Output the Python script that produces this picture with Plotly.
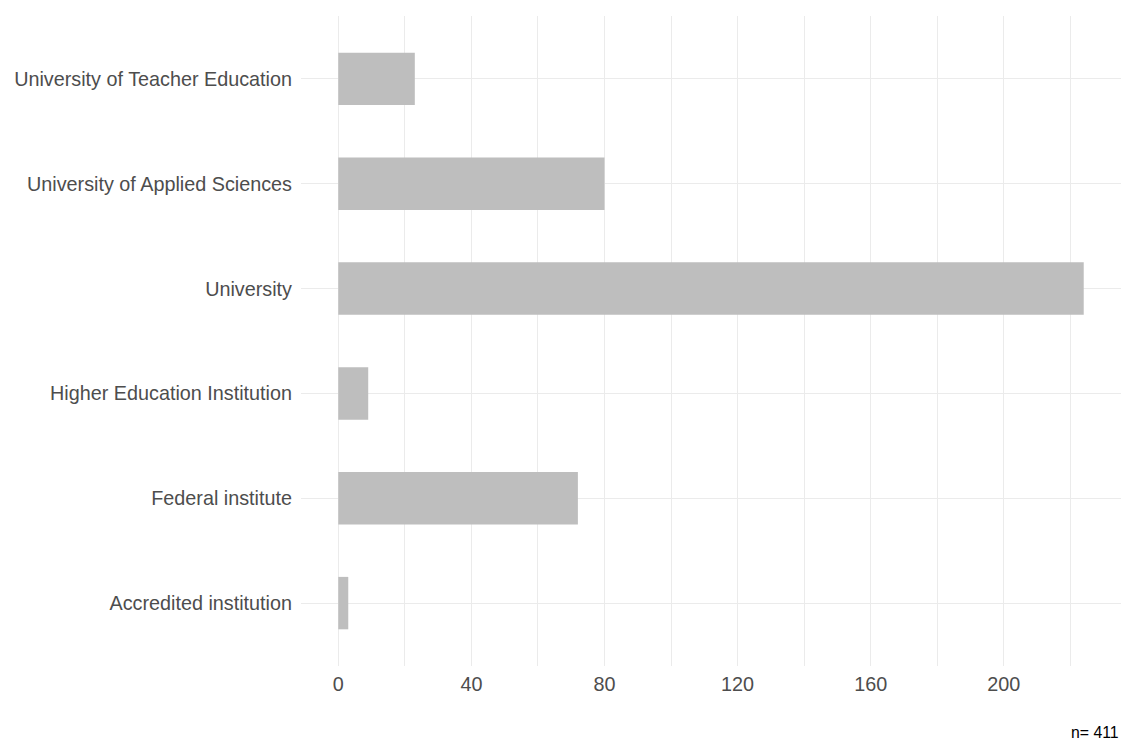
import plotly.graph_objects as go

categories = ["Accredited institution", "Federal institute", "Higher Education Institution",
              "University", "University of Applied Sciences", "University of Teacher Education"]
counts = [3, 72, 9, 224, 80, 23]
x_ticks = [0, 40, 80, 120, 160, 200]
caption = "n= 411"

fig = go.Figure(go.Bar(
    x=counts, y=categories, orientation="h", width=0.5,
    marker=dict(color="#BEBEBE", line=dict(width=0)),
    hoverinfo="x+y",
))

xmax = max(counts)
fig.update_layout(
    width=1122, height=744,
    margin=dict(l=301, r=1, t=16, b=78),
    paper_bgcolor="white", plot_bgcolor="white",
    font=dict(family="Liberation Sans, Arial, sans-serif", size=19.8, color="#4D4D4D"),
    showlegend=False,
    xaxis=dict(
        range=[-0.05 * xmax, 1.05 * xmax],
        tickvals=x_ticks, ticktext=[str(v) for v in x_ticks],
        showgrid=True, gridcolor="#EBEBEB", gridwidth=1.3,
        minor=dict(dtick=20, tick0=0, showgrid=True, gridcolor="#EBEBEB", gridwidth=1.3),
        zeroline=False, showline=False, ticks="", ticklabelstandoff=4,
    ),
    yaxis=dict(
        type="category", categoryorder="array", categoryarray=categories,
        range=[-0.6, len(categories) - 0.4],
        showgrid=True, gridcolor="#EBEBEB", gridwidth=1.3,
        zeroline=False, showline=False, ticks="", ticklabelstandoff=8,
    ),
    annotations=[dict(
        text=caption, xref="paper", yref="paper", x=1, y=0, yshift=-66,
        xanchor="right", yanchor="middle", showarrow=False,
        font=dict(size=15.8, color="black"),
    )],
)

fig.write_html("out.html", config={"displayModeBar": False},
               post_script="document.body.style.margin='0';document.body.style.overflow='hidden';")
